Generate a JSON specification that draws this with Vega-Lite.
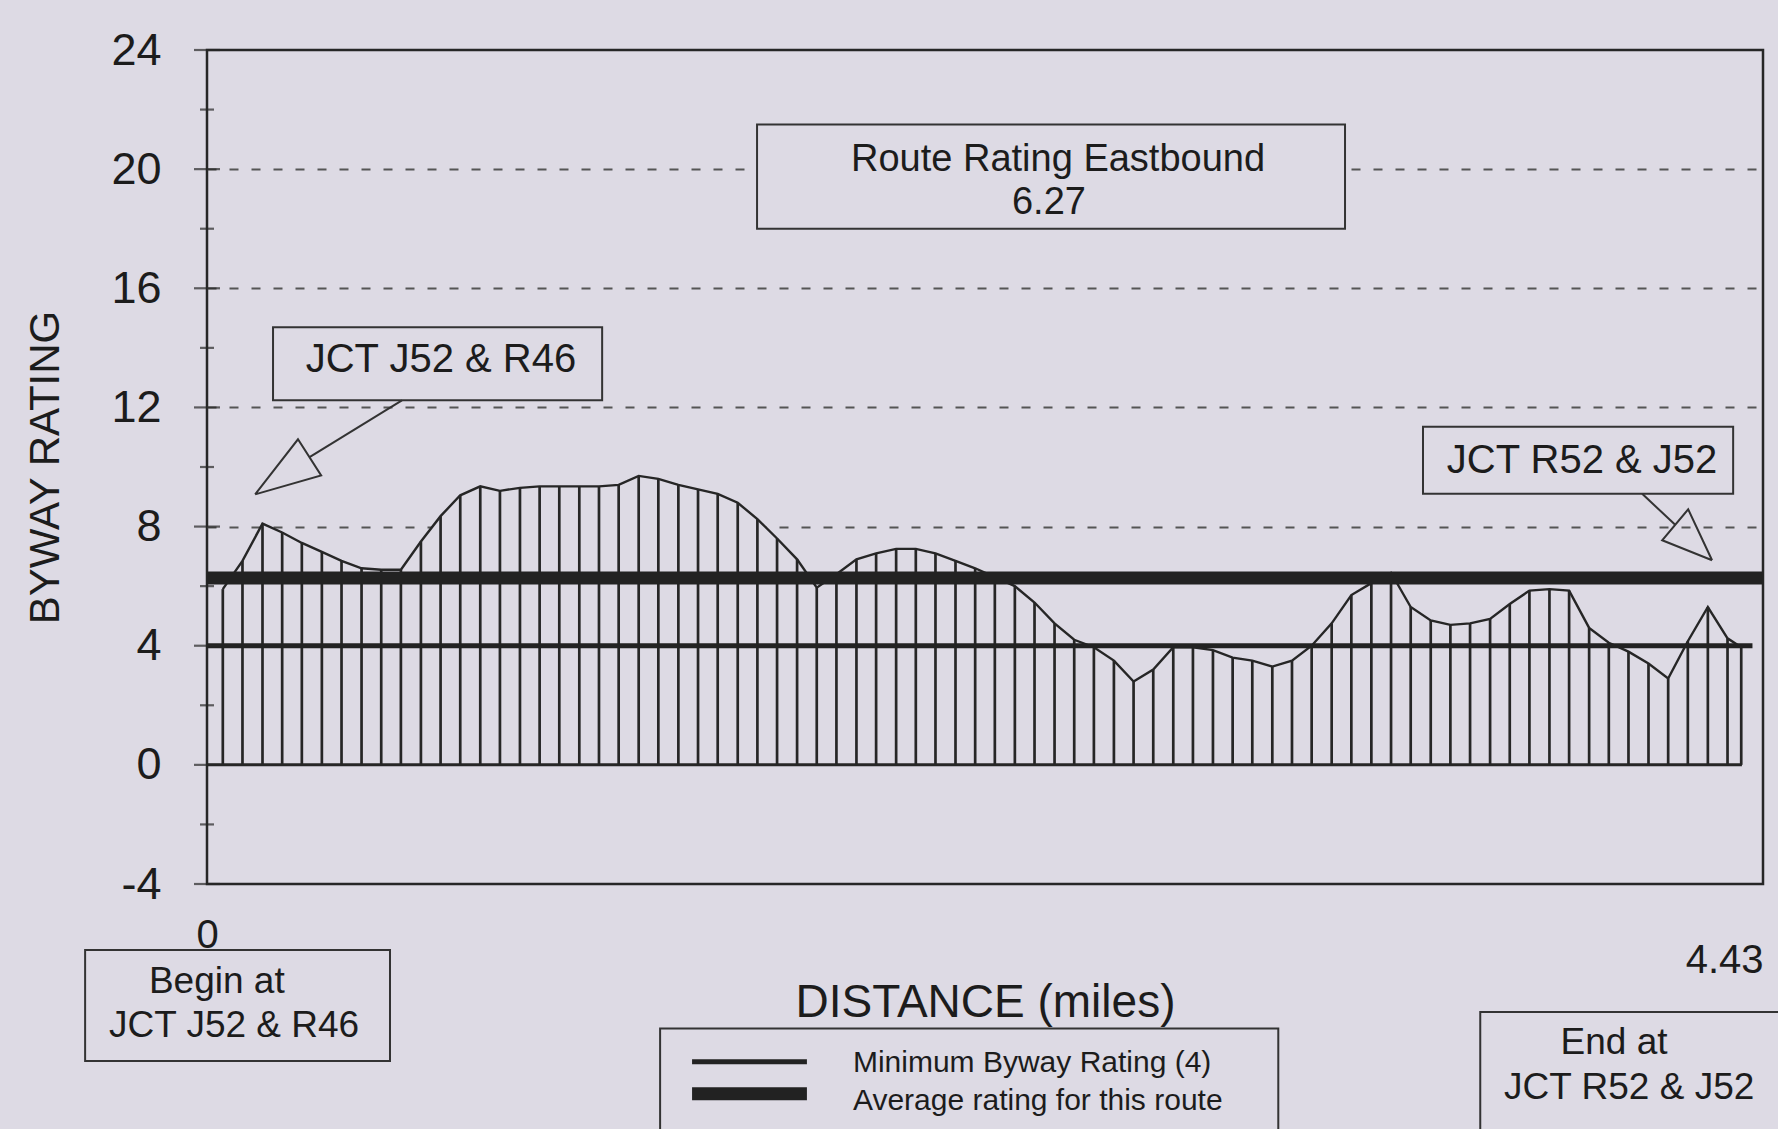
{
  "$schema": "https://vega.github.io/schema/vega-lite/v6.json",
  "width": 1556,
  "height": 834,
  "autosize": {"type": "none"},
  "padding": {"left": 207, "top": 50, "right": 15, "bottom": 245},
  "background": "#dddae4",
  "config": {
    "view": {"stroke": "#262626", "strokeWidth": 2.5},
    "font": "Liberation Sans",
    "text": {"font": "Liberation Sans", "color": "#1c1c1c"}
  },
  "datasets": {
    "profile": [
      {"x": 0.045, "y": 5.9}, {"x": 0.101, "y": 6.85}, {"x": 0.158, "y": 8.1}, {"x": 0.214, "y": 7.8},
      {"x": 0.270, "y": 7.45}, {"x": 0.327, "y": 7.15}, {"x": 0.383, "y": 6.85}, {"x": 0.440, "y": 6.6},
      {"x": 0.496, "y": 6.55}, {"x": 0.552, "y": 6.55}, {"x": 0.609, "y": 7.5}, {"x": 0.665, "y": 8.35},
      {"x": 0.721, "y": 9.05}, {"x": 0.778, "y": 9.35}, {"x": 0.834, "y": 9.2}, {"x": 0.891, "y": 9.3},
      {"x": 0.947, "y": 9.35}, {"x": 1.003, "y": 9.35}, {"x": 1.060, "y": 9.35}, {"x": 1.116, "y": 9.35},
      {"x": 1.172, "y": 9.4}, {"x": 1.229, "y": 9.7}, {"x": 1.285, "y": 9.6}, {"x": 1.342, "y": 9.4},
      {"x": 1.398, "y": 9.25}, {"x": 1.454, "y": 9.1}, {"x": 1.511, "y": 8.8}, {"x": 1.567, "y": 8.25},
      {"x": 1.623, "y": 7.6}, {"x": 1.680, "y": 6.9}, {"x": 1.736, "y": 5.95}, {"x": 1.792, "y": 6.4},
      {"x": 1.849, "y": 6.9}, {"x": 1.905, "y": 7.1}, {"x": 1.962, "y": 7.25}, {"x": 2.018, "y": 7.25},
      {"x": 2.074, "y": 7.1}, {"x": 2.131, "y": 6.85}, {"x": 2.187, "y": 6.6}, {"x": 2.243, "y": 6.3},
      {"x": 2.300, "y": 6.0}, {"x": 2.356, "y": 5.45}, {"x": 2.413, "y": 4.75}, {"x": 2.469, "y": 4.2},
      {"x": 2.525, "y": 3.95}, {"x": 2.582, "y": 3.5}, {"x": 2.638, "y": 2.8}, {"x": 2.694, "y": 3.2},
      {"x": 2.751, "y": 3.95}, {"x": 2.807, "y": 3.95}, {"x": 2.864, "y": 3.85}, {"x": 2.920, "y": 3.6},
      {"x": 2.976, "y": 3.5}, {"x": 3.033, "y": 3.3}, {"x": 3.089, "y": 3.5}, {"x": 3.145, "y": 4.0},
      {"x": 3.202, "y": 4.75}, {"x": 3.258, "y": 5.7}, {"x": 3.315, "y": 6.1}, {"x": 3.371, "y": 6.45},
      {"x": 3.427, "y": 5.3}, {"x": 3.484, "y": 4.85}, {"x": 3.540, "y": 4.7}, {"x": 3.596, "y": 4.75},
      {"x": 3.653, "y": 4.9}, {"x": 3.709, "y": 5.4}, {"x": 3.765, "y": 5.85}, {"x": 3.822, "y": 5.9},
      {"x": 3.878, "y": 5.85}, {"x": 3.935, "y": 4.6}, {"x": 3.991, "y": 4.1}, {"x": 4.047, "y": 3.8},
      {"x": 4.104, "y": 3.4}, {"x": 4.160, "y": 2.9}, {"x": 4.216, "y": 4.15}, {"x": 4.273, "y": 5.3},
      {"x": 4.329, "y": 4.25}, {"x": 4.368, "y": 3.95}
    ],
    "reflines": [
      {"name": "base", "x0": 0, "x1": 4.37, "y": 0},
      {"name": "min", "x0": 0, "x1": 4.40, "y": 4},
      {"name": "avg", "x0": 0, "x1": 4.43, "y": 6.27}
    ],
    "yticks": [
      {"y": -4, "kind": "major"}, {"y": -2, "kind": "minor"}, {"y": 0, "kind": "major"}, {"y": 2, "kind": "minor"},
      {"y": 4, "kind": "major"}, {"y": 6, "kind": "minor"}, {"y": 8, "kind": "major"}, {"y": 10, "kind": "minor"},
      {"y": 12, "kind": "major"}, {"y": 14, "kind": "minor"}, {"y": 16, "kind": "major"}, {"y": 18, "kind": "minor"},
      {"y": 20, "kind": "major"}, {"y": 22, "kind": "minor"}, {"y": 24, "kind": "major"}
    ],
    "boxes": [
      {"box": "jct_start", "x0": 0.188, "x1": 1.125, "y0": 12.24, "y1": 14.69},
      {"box": "route", "x0": 1.566, "x1": 3.240, "y0": 18.0, "y1": 21.5},
      {"box": "jct_end", "x0": 3.462, "x1": 4.345, "y0": 9.1, "y1": 11.35},
      {"box": "begin", "x0": -0.347, "x1": 0.521, "y0": -9.94, "y1": -6.22},
      {"box": "legend", "x0": 1.290, "x1": 3.050, "y0": -13, "y1": -8.85},
      {"box": "end", "x0": 3.625, "x1": 4.6, "y0": -13, "y1": -8.3}
    ],
    "arrows": [
      {"shape": "head1", "ord": 1, "x": 0.137, "y": 9.08},
      {"shape": "head1", "ord": 2, "x": 0.259, "y": 10.93},
      {"shape": "head1", "ord": 3, "x": 0.325, "y": 9.72},
      {"shape": "head1", "ord": 4, "x": 0.137, "y": 9.08},
      {"shape": "shaft1", "ord": 1, "x": 0.292, "y": 10.33},
      {"shape": "shaft1", "ord": 2, "x": 0.555, "y": 12.24},
      {"shape": "head2", "ord": 1, "x": 4.285, "y": 6.87},
      {"shape": "head2", "ord": 2, "x": 4.217, "y": 8.58},
      {"shape": "head2", "ord": 3, "x": 4.143, "y": 7.54},
      {"shape": "head2", "ord": 4, "x": 4.285, "y": 6.87},
      {"shape": "shaft2", "ord": 1, "x": 4.18, "y": 8.06},
      {"shape": "shaft2", "ord": 2, "x": 4.086, "y": 9.1}
    ],
    "legendlines": [
      {"kind": "thin", "x0": 1.381, "x1": 1.708, "y": -9.97},
      {"kind": "thick", "x0": 1.381, "x1": 1.708, "y": -11.04}
    ],
    "labels": [
      {"t": "JCT J52 & R46", "x": 0.666, "y": 13.6},
      {"t": "JCT R52 & J52", "x": 3.915, "y": 10.2}
    ],
    "boxlabels": [
      {"t": "Begin at", "x": 0.028, "y": -7.3},
      {"t": "JCT J52 & R46", "x": 0.077, "y": -8.78},
      {"t": "End at", "x": 4.006, "y": -9.35},
      {"t": "JCT R52 & J52", "x": 4.049, "y": -10.85}
    ],
    "route": [
      {"t": "Route Rating Eastbound", "x": 2.423, "y": 20.3},
      {"t": "6.27", "x": 2.397, "y": 18.85}
    ],
    "legendtext": [
      {"t": "Minimum Byway Rating (4)", "x": 1.839, "y": -10.02},
      {"t": "Average rating for this route", "x": 1.839, "y": -11.3}
    ]
  },
  "layer": [
    {
      "data": {"name": "profile"},
      "mark": {"type": "area", "fill": "#dddae4", "strokeWidth": 0},
      "encoding": {
        "x": {
          "field": "x", "type": "quantitative",
          "scale": {"domain": [0, 4.43], "nice": false, "zero": false},
          "axis": {
            "title": "DISTANCE (miles)",
            "titleFontSize": 46, "titleFontWeight": "normal", "titleColor": "#1c1c1c",
            "titleBaseline": "alphabetic", "titleY": 132,
            "values": [0, 4.43],
            "labelExpr": "'' + datum.value",
            "labelFontSize": 40, "labelColor": "#1c1c1c",
            "labelBaseline": "middle",
            "labelAlign": {"condition": {"test": "datum.value > 1", "value": "right"}, "value": "center"},
            "labelPadding": {"condition": {"test": "datum.value > 1", "value": 76}, "value": 51},
            "labelOverlap": false, "labelFlush": false,
            "ticks": false, "domain": false, "grid": false
          }
        },
        "y": {
          "field": "y", "type": "quantitative",
          "scale": {"domain": [-4, 24], "nice": false, "zero": false},
          "axis": {
            "title": "BYWAY RATING",
            "titleFontSize": 42, "titleFontWeight": "normal", "titleColor": "#1c1c1c",
            "titlePadding": 43,
            "values": [-4, 0, 4, 8, 12, 16, 20, 24],
            "labelExpr": "'' + datum.value",
            "labelFontSize": 45, "labelColor": "#1c1c1c", "labelPadding": 46,
            "ticks": false, "domain": false,
            "grid": true, "gridDash": [9, 13], "gridColor": "#555555", "gridWidth": 1.8,
            "gridOpacity": {"condition": {"test": "datum.value >= 8 && datum.value <= 20", "value": 1}, "value": 0}
          }
        },
        "y2": {"datum": 0}
      }
    },
    {
      "data": {"name": "profile"},
      "mark": {"type": "rule", "color": "#262626", "strokeWidth": 2.7},
      "encoding": {
        "x": {"field": "x", "type": "quantitative"},
        "y": {"field": "y", "type": "quantitative"},
        "y2": {"datum": 0}
      }
    },
    {
      "data": {"name": "profile"},
      "mark": {"type": "line", "color": "#262626", "strokeWidth": 2.4},
      "encoding": {
        "x": {"field": "x", "type": "quantitative"},
        "y": {"field": "y", "type": "quantitative"}
      }
    },
    {
      "data": {"name": "reflines"},
      "transform": [{"filter": "datum.name === 'base'"}],
      "mark": {"type": "rule", "color": "#262626", "strokeWidth": 3},
      "encoding": {
        "x": {"field": "x0", "type": "quantitative"},
        "x2": {"field": "x1"},
        "y": {"field": "y", "type": "quantitative"}
      }
    },
    {
      "data": {"name": "reflines"},
      "transform": [{"filter": "datum.name === 'min'"}],
      "mark": {"type": "rule", "color": "#222222", "strokeWidth": 5},
      "encoding": {
        "x": {"field": "x0", "type": "quantitative"},
        "x2": {"field": "x1"},
        "y": {"field": "y", "type": "quantitative"}
      }
    },
    {
      "data": {"name": "reflines"},
      "transform": [{"filter": "datum.name === 'avg'"}],
      "mark": {"type": "rule", "color": "#222222", "strokeWidth": 13},
      "encoding": {
        "x": {"field": "x0", "type": "quantitative"},
        "x2": {"field": "x1"},
        "y": {"field": "y", "type": "quantitative"}
      }
    },
    {
      "data": {"name": "yticks"},
      "transform": [{"filter": "datum.kind === 'major'"}],
      "mark": {"type": "tick", "orient": "horizontal", "size": 26, "thickness": 2.2, "color": "#262626"},
      "encoding": {
        "x": {"datum": 0, "type": "quantitative"},
        "y": {"field": "y", "type": "quantitative"}
      }
    },
    {
      "data": {"name": "yticks"},
      "transform": [{"filter": "datum.kind === 'minor'"}],
      "mark": {"type": "tick", "orient": "horizontal", "size": 14, "thickness": 2.2, "color": "#262626"},
      "encoding": {
        "x": {"datum": 0, "type": "quantitative"},
        "y": {"field": "y", "type": "quantitative"}
      }
    },
    {
      "data": {"name": "boxes"},
      "mark": {"type": "rect", "fill": "#dddae4", "stroke": "#333333", "strokeWidth": 2},
      "encoding": {
        "x": {"field": "x0", "type": "quantitative"},
        "x2": {"field": "x1"},
        "y": {"field": "y0", "type": "quantitative"},
        "y2": {"field": "y1"}
      }
    },
    {
      "data": {"name": "arrows"},
      "mark": {"type": "line", "color": "#333333", "strokeWidth": 2},
      "encoding": {
        "x": {"field": "x", "type": "quantitative"},
        "y": {"field": "y", "type": "quantitative"},
        "detail": {"field": "shape"},
        "order": {"field": "ord", "type": "quantitative"}
      }
    },
    {
      "data": {"name": "legendlines"},
      "transform": [{"filter": "datum.kind === 'thin'"}],
      "mark": {"type": "rule", "color": "#222222", "strokeWidth": 5},
      "encoding": {
        "x": {"field": "x0", "type": "quantitative"},
        "x2": {"field": "x1"},
        "y": {"field": "y", "type": "quantitative"}
      }
    },
    {
      "data": {"name": "legendlines"},
      "transform": [{"filter": "datum.kind === 'thick'"}],
      "mark": {"type": "rule", "color": "#222222", "strokeWidth": 13},
      "encoding": {
        "x": {"field": "x0", "type": "quantitative"},
        "x2": {"field": "x1"},
        "y": {"field": "y", "type": "quantitative"}
      }
    },
    {
      "data": {"name": "labels"},
      "mark": {"type": "text", "fontSize": 40, "align": "center", "baseline": "middle", "color": "#1c1c1c"},
      "encoding": {
        "x": {"field": "x", "type": "quantitative"},
        "y": {"field": "y", "type": "quantitative"},
        "text": {"field": "t"}
      }
    },
    {
      "data": {"name": "boxlabels"},
      "mark": {"type": "text", "fontSize": 37, "align": "center", "baseline": "middle", "color": "#1c1c1c"},
      "encoding": {
        "x": {"field": "x", "type": "quantitative"},
        "y": {"field": "y", "type": "quantitative"},
        "text": {"field": "t"}
      }
    },
    {
      "data": {"name": "route"},
      "mark": {"type": "text", "fontSize": 38, "align": "center", "baseline": "middle", "color": "#1c1c1c"},
      "encoding": {
        "x": {"field": "x", "type": "quantitative"},
        "y": {"field": "y", "type": "quantitative"},
        "text": {"field": "t"}
      }
    },
    {
      "data": {"name": "legendtext"},
      "mark": {"type": "text", "fontSize": 30, "align": "left", "baseline": "middle", "color": "#1c1c1c"},
      "encoding": {
        "x": {"field": "x", "type": "quantitative"},
        "y": {"field": "y", "type": "quantitative"},
        "text": {"field": "t"}
      }
    }
  ]
}
